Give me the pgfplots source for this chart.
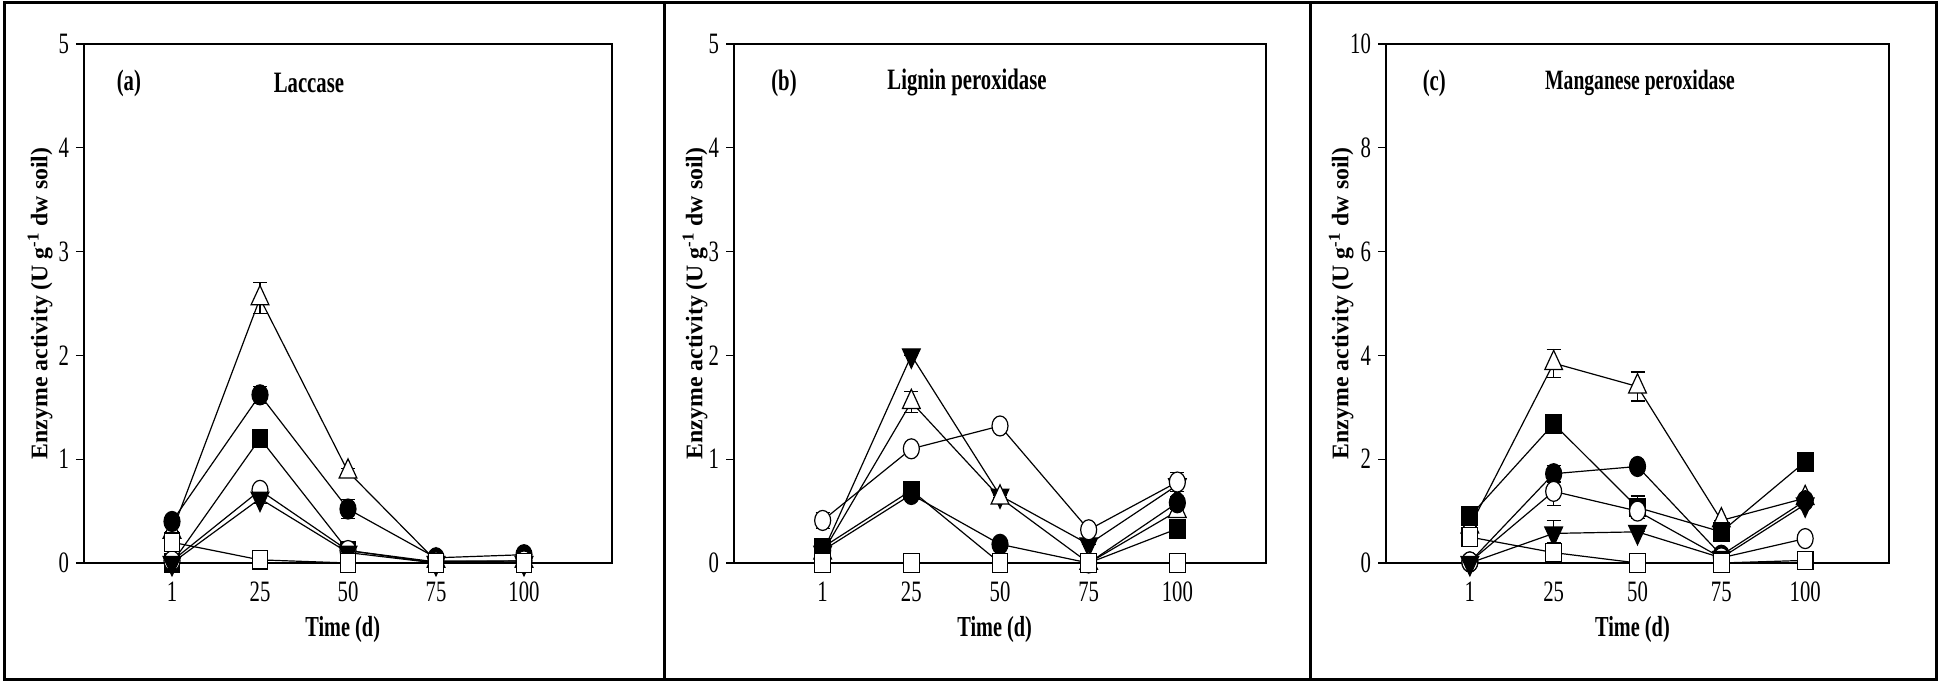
\documentclass[border=0pt]{standalone}
\usepackage{fontspec}
\setmainfont{Liberation Serif}
\newfontfamily\cond{Liberation Serif}[FakeStretch=0.7]
\usepackage{pgfplots}
\pgfplotsset{compat=1.18}

\tikzset{
  ttl/.style={font=\fontsize{14.8}{17}\selectfont\bfseries\cond},
  xlab/.style={font=\fontsize{14.5}{17}\selectfont\bfseries\cond},
}
\pgfplotsset{
  enz/.style={
    scale only axis, height=259.5pt,
    anchor=south west, clip=false,
    xmin=-25, xmax=125, ymin=0,
    xtick={0,25,50,75,100}, xticklabels={1,25,50,75,100},
    xtick style={draw=none},
    ytick pos=left, tick align=outside, major tick length=4pt,
    ytick style={black, line width=0.6pt},
    axis line style={line width=0.6pt},
    ticklabel style={font=\fontsize{14.8}{17}\selectfont\cond},
    /pgf/number format/assume math mode=true,
    xticklabel style={yshift=-2pt},
    ylabel={Enzyme activity (U g\textsuperscript{-1} dw soil)},
    ylabel style={font=\fontsize{11.9}{13}\selectfont\bfseries, anchor=center},
    every axis plot/.append style={black, line width=0.6pt},
    error bars/y dir=both, error bars/y explicit,
    error bars/error mark options={rotate=90, mark size=3.5pt, line width=0.6pt, black},
    error bars/error bar style={line width=0.6pt, black},
  },
  fc/.style={mark=*, mark size=5pt, mark options={solid, fill=black, xscale=0.8}},
  oc/.style={mark=*, mark size=5pt, mark options={solid, fill=white, xscale=0.8}},
  ft/.style={mark=triangle*, mark size=6.4pt, mark options={solid, fill=black, rotate=180, xscale=0.8}},
  ot/.style={mark=triangle*, mark size=6.4pt, mark options={solid, fill=white, xscale=0.8}},
  fs/.style={mark=square*, mark size=4.6pt, mark options={solid, fill=black, xscale=0.85}},
  os/.style={mark=square*, mark size=4.6pt, mark options={solid, fill=white, xscale=0.85}},
}

\begin{document}
\begin{tikzpicture}
\useasboundingbox (0pt,0pt) rectangle (969.5pt,341.5pt);
\draw[line width=1.5pt] (2pt,1.5pt) rectangle (332pt,340pt);
\draw[line width=1.5pt] (332pt,1.5pt) rectangle (655pt,340pt);
\draw[line width=1.5pt] (655pt,1.5pt) rectangle (968pt,340pt);

% (a) Laccase
\begin{axis}[enz, at={(42pt,60pt)}, width=264pt, ymax=5, ytick={0,1,2,3,4,5},
  ylabel style={at={(axis description cs:-0.083,0.5)}}]
\addplot[ot] coordinates {(0,0.30) +- (0,0) (25,2.55) +- (0,0.15) (50,0.88) +- (0,0.03) (75,0.02) +- (0,0) (100,0.02) +- (0,0)};
\addplot[fc] coordinates {(0,0.40) +- (0,0.03) (25,1.62) +- (0,0.08) (50,0.52) +- (0,0.09) (75,0.05) +- (0,0) (100,0.08) +- (0,0)};
\addplot[fs] coordinates {(0,0.00) +- (0,0) (25,1.20) +- (0,0.03) (50,0.12) +- (0,0) (75,0.00) +- (0,0) (100,0.00) +- (0,0)};
\addplot[oc] coordinates {(0,0.02) +- (0,0) (25,0.70) +- (0,0) (50,0.12) +- (0,0) (75,0.01) +- (0,0) (100,0.02) +- (0,0)};
\addplot[ft] coordinates {(0,0.00) +- (0,0) (25,0.62) +- (0,0.05) (50,0.10) +- (0,0) (75,0.00) +- (0,0) (100,0.00) +- (0,0)};
\addplot[os] coordinates {(0,0.20) +- (0,0.05) (25,0.03) +- (0,0.05) (50,0.00) +- (0,0) (75,0.00) +- (0,0) (100,0.00) +- (0,0.05)};
\node[ttl] at (rel axis cs:0.085,0.925) {(a)};
\node[ttl] at (rel axis cs:0.426,0.925) {Laccase};
\node[xlab] at (rel axis cs:0.49,-0.128) {Time (d)};
\end{axis}

% (b) Lignin peroxidase
\begin{axis}[enz, at={(367pt,60pt)}, width=266pt, ymax=5, ytick={0,1,2,3,4,5},
  ylabel style={at={(axis description cs:-0.073,0.5)}}]
\addplot[ft] coordinates {(0,0.10) +- (0,0) (25,2.00) +- (0,0) (50,0.65) +- (0,0) (75,0.18) +- (0,0) (100,0.75) +- (0,0)};
\addplot[ot] coordinates {(0,0.10) +- (0,0) (25,1.55) +- (0,0.10) (50,0.63) +- (0,0) (75,0.00) +- (0,0) (100,0.50) +- (0,0.06)};
\addplot[oc] coordinates {(0,0.41) +- (0,0.08) (25,1.10) +- (0,0) (50,1.32) +- (0,0) (75,0.32) +- (0,0) (100,0.78) +- (0,0.09)};
\addplot[fs] coordinates {(0,0.15) +- (0,0) (25,0.70) +- (0,0) (50,0.00) +- (0,0) (75,0.00) +- (0,0) (100,0.33) +- (0,0)};
\addplot[fc] coordinates {(0,0.12) +- (0,0) (25,0.66) +- (0,0) (50,0.18) +- (0,0) (75,0.00) +- (0,0) (100,0.58) +- (0,0.06)};
\addplot[os] coordinates {(0,0.00) +- (0,0.05) (25,0.00) +- (0,0) (50,0.00) +- (0,0) (75,0.00) +- (0,0) (100,0.00) +- (0,0)};
\node[ttl] at (rel axis cs:0.094,0.925) {(b)};
\node[ttl] at (rel axis cs:0.438,0.925) {Lignin peroxidase};
\node[xlab] at (rel axis cs:0.49,-0.128) {Time (d)};
\end{axis}

% (c) Manganese peroxidase
\begin{axis}[enz, at={(693pt,60pt)}, width=251.5pt, ymax=10, ytick={0,2,4,6,8,10},
  ylabel style={at={(axis description cs:-0.089,0.5)}}]
\addplot[ot] coordinates {(0,0.70) +- (0,0) (25,3.85) +- (0,0.27) (50,3.40) +- (0,0.28) (75,0.82) +- (0,0) (100,1.25) +- (0,0)};
\addplot[fs] coordinates {(0,0.90) +- (0,0) (25,2.68) +- (0,0) (50,1.07) +- (0,0.22) (75,0.60) +- (0,0) (100,1.95) +- (0,0)};
\addplot[fc] coordinates {(0,0.02) +- (0,0) (25,1.72) +- (0,0.16) (50,1.86) +- (0,0) (75,0.15) +- (0,0) (100,1.20) +- (0,0)};
\addplot[oc] coordinates {(0,0.02) +- (0,0) (25,1.38) +- (0,0.27) (50,1.00) +- (0,0) (75,0.10) +- (0,0) (100,0.47) +- (0,0)};
\addplot[ft] coordinates {(0,0.00) +- (0,0) (25,0.57) +- (0,0.25) (50,0.60) +- (0,0) (75,0.10) +- (0,0) (100,1.13) +- (0,0)};
\addplot[os] coordinates {(0,0.50) +- (0,0) (25,0.20) +- (0,0.20) (50,0.00) +- (0,0) (75,0.00) +- (0,0) (100,0.05) +- (0,0)};
\node[ttl] at (rel axis cs:0.096,0.925) {(c)};
\node[ttl, font=\fontsize{14}{17}\selectfont\bfseries\cond] at (rel axis cs:0.505,0.925) {Manganese peroxidase};
\node[xlab] at (rel axis cs:0.49,-0.128) {Time (d)};
\end{axis}
\end{tikzpicture}
\end{document}
